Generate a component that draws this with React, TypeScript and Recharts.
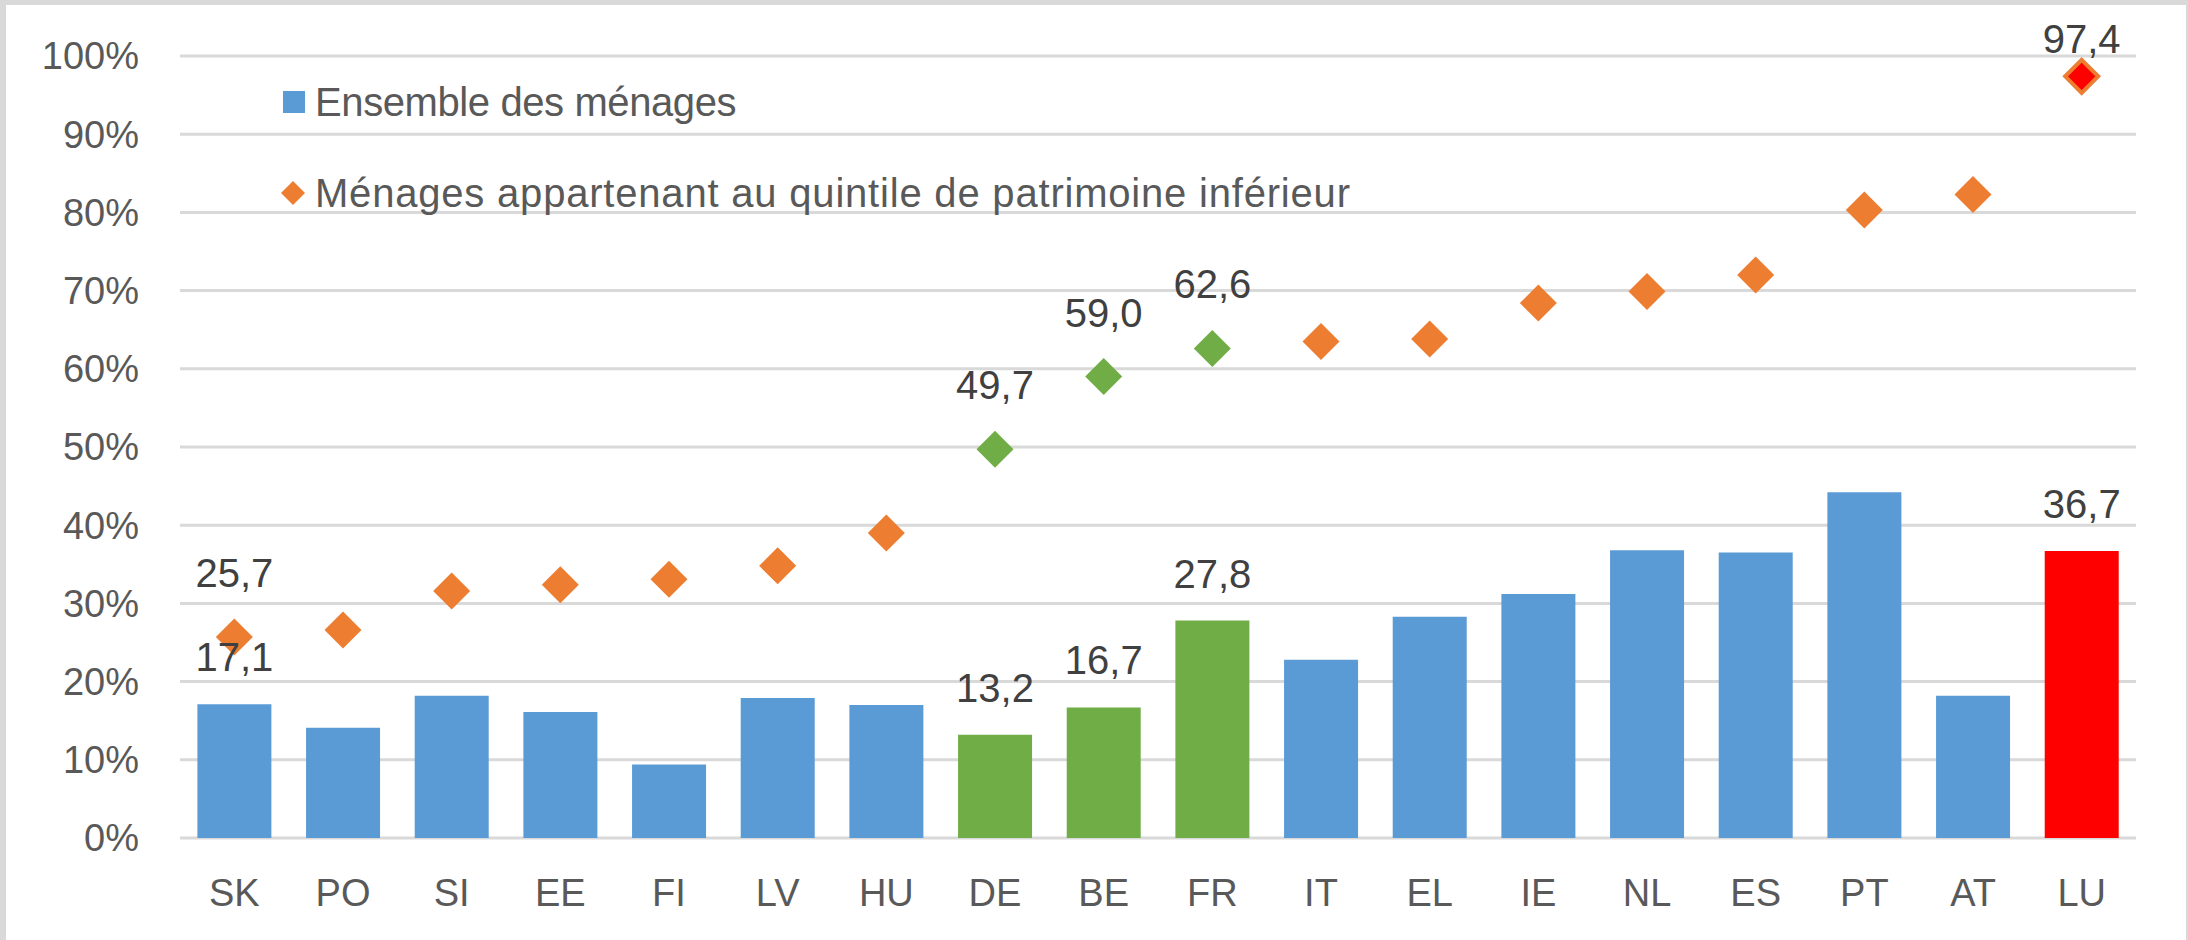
import React from 'react';
import { ComposedChart, Bar, Scatter, XAxis, YAxis, CartesianGrid, Cell, LabelList, Legend } from 'recharts';

// Pays (ordre du graphique)
const countries = ['SK', 'PO', 'SI', 'EE', 'FI', 'LV', 'HU', 'DE', 'BE', 'FR', 'IT', 'EL', 'IE', 'NL', 'ES', 'PT', 'AT', 'LU'];

// Ensemble des ménages (%)
const allHouseholds = [17.1, 14.1, 18.2, 16.1, 9.4, 17.9, 17.0, 13.2, 16.7, 27.8, 22.8, 28.3, 31.2, 36.8, 36.5, 44.2, 18.2, 36.7];

// Ménages appartenant au quintile de patrimoine inférieur (%)
const lowestQuintile = [25.7, 26.6, 31.6, 32.4, 33.1, 34.8, 39.0, 49.7, 59.0, 62.6, 63.5, 63.8, 68.4, 69.9, 72.0, 80.3, 82.3, 97.4];

const yTicks = [0, 10, 20, 30, 40, 50, 60, 70, 80, 90, 100];

const greenCountries = ['DE', 'BE', 'FR'];
const focusCountry = 'LU';
const labelledCountries = ['SK', 'DE', 'BE', 'FR', 'LU'];

const colors = {
  blue: '#5b9bd5',
  green: '#70ad47',
  orange: '#ed7d31',
  red: '#ff0000',
  grid: '#d9d9d9',
  axisText: '#595959',
  labelText: '#404040',
};

const FONT = '"Liberation Sans", Arial, sans-serif';

const data = countries.map((c, i) => ({
  country: c,
  all: allHouseholds[i],
  low: lowestQuintile[i],
}));

const fmt = (v: number) => v.toFixed(1).replace('.', ',');

const barColor = (c: string) =>
  c === focusCountry ? colors.red : greenCountries.includes(c) ? colors.green : colors.blue;

function Diamond({ cx, cy, payload }: any) {
  const c = payload.country;
  const r = 18.5;
  const fill = greenCountries.includes(c) ? colors.green : colors.orange;
  const isFocus = c === focusCountry;
  const labelLift = isFocus ? 23 : 50;
  return (
    <g>
      {isFocus ? (
        <polygon
          points={`${cx},${cy - r + 2} ${cx + r - 2},${cy} ${cx},${cy + r - 2} ${cx - r + 2},${cy}`}
          fill={colors.red}
          stroke={colors.orange}
          strokeWidth={4}
        />
      ) : (
        <polygon points={`${cx},${cy - r} ${cx + r},${cy} ${cx},${cy + r} ${cx - r},${cy}`} fill={fill} />
      )}
      {labelledCountries.includes(c) && (
        <text
          x={cx}
          y={cy - labelLift}
          textAnchor="middle"
          fontSize={40}
          fontFamily={FONT}
          fill={colors.labelText}
        >
          {fmt(payload.low)}
        </text>
      )}
    </g>
  );
}

function BarLabel({ x, y, width, value, index }: any) {
  if (!labelledCountries.includes(countries[index])) return null;
  return (
    <text
      x={x + width / 2}
      y={y - 33}
      textAnchor="middle"
      fontSize={40}
      fontFamily={FONT}
      fill={colors.labelText}
    >
      {fmt(value)}
    </text>
  );
}

function LegendBox() {
  const textStyle = { fontSize: 40, fontFamily: FONT, color: colors.axisText, lineHeight: '44px' };
  return (
    <div style={{ display: 'flex', flexDirection: 'column', gap: 47 }}>
      <div style={{ display: 'flex', alignItems: 'center' }}>
        <svg width={35} height={44}>
          <rect x={3} y={11} width={22} height={22} fill={colors.blue} />
        </svg>
        <span style={{ ...textStyle, letterSpacing: -0.4 }}>Ensemble des ménages</span>
      </div>
      <div style={{ display: 'flex', alignItems: 'center' }}>
        <svg width={35} height={44}>
          <polygon points="13,10 25,22 13,34 1,22" fill={colors.orange} />
        </svg>
        <span style={{ ...textStyle, letterSpacing: 0.8 }}>
          Ménages appartenant au quintile de patrimoine inférieur
        </span>
      </div>
    </div>
  );
}

export default function App() {
  return (
    <div style={{ position: 'fixed', left: 0, top: 0, width: 2188, height: 940, background: '#fff' }}>
      <ComposedChart
        width={2188}
        height={940}
        data={data}
        margin={{ top: 56, right: 52, bottom: 0, left: 0 }}
        barCategoryGap="16%"
      >
        <CartesianGrid vertical={false} stroke={colors.grid} strokeWidth={3} />
        <XAxis
          dataKey="country"
          height={102}
          axisLine={false}
          tickLine={false}
          tickSize={0}
          tickMargin={41}
          tick={{ fontSize: 38, fontFamily: FONT, fill: colors.axisText }}
          interval={0}
        />
        <YAxis
          width={180}
          domain={[0, 100]}
          ticks={yTicks}
          axisLine={false}
          tickLine={false}
          tickSize={0}
          tickMargin={41}
          tickFormatter={(v) => `${v}%`}
          tick={{ fontSize: 38, fontFamily: FONT, fill: colors.axisText }}
        />
        <Legend
          layout="horizontal"
          verticalAlign="middle"
          align="center"
          content={() => <LegendBox />}
          wrapperStyle={{ left: 280, top: 80, width: 1300, height: 'auto' }}
        />
        <Bar dataKey="all" name="Ensemble des ménages" isAnimationActive={false}>
          {data.map((d) => (
            <Cell key={d.country} fill={barColor(d.country)} />
          ))}
          <LabelList dataKey="all" content={<BarLabel />} />
        </Bar>
        <Scatter
          dataKey="low"
          name="Ménages appartenant au quintile de patrimoine inférieur"
          fill={colors.orange}
          shape={(p: any) => <Diamond {...p} />}
          isAnimationActive={false}
        />
      </ComposedChart>
      <div
        style={{
          position: 'absolute',
          inset: 0,
          borderTop: '5px solid #d9d9d9',
          borderLeft: '6px solid #d9d9d9',
          borderRight: '2px solid #d9d9d9',
          pointerEvents: 'none',
        }}
      />
    </div>
  );
}
